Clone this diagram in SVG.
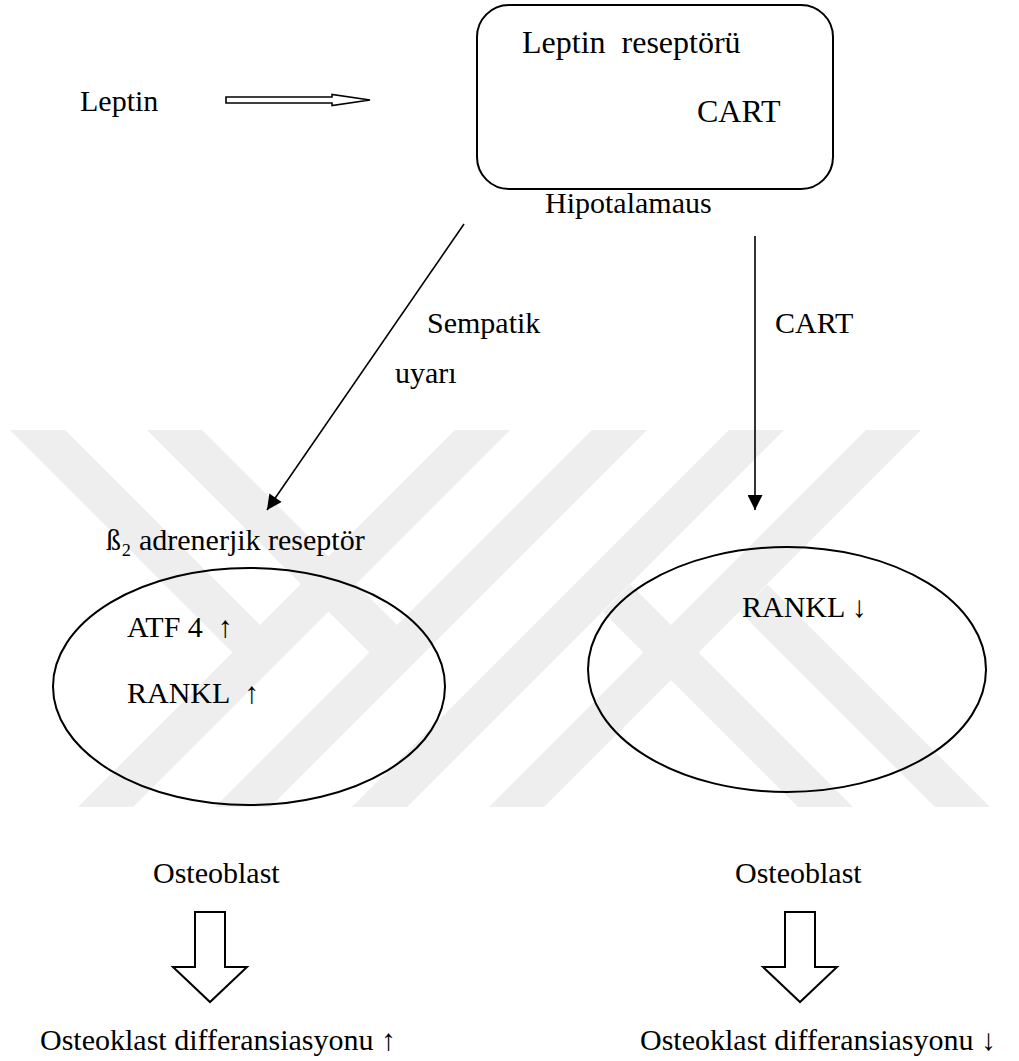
<svg xmlns="http://www.w3.org/2000/svg" width="1019" height="1061" viewBox="0 0 1019 1061">
<style>
  text { font-family: "Liberation Serif", "Times New Roman", serif; font-size: 30px; fill: #000; white-space: pre; }
  .big { font-size: 32px; }
  .wm { fill: #eeeeee; stroke: none; }
  .shape { fill: none; stroke: #000; stroke-width: 2; }
  .conn { fill: none; stroke: #000; stroke-width: 1.6; }
</style>
<defs>
  <marker id="ah" viewBox="0 0 10 10" refX="10" refY="5" markerWidth="17" markerHeight="15" markerUnits="userSpaceOnUse" orient="auto">
    <path d="M0,0 L10,5 L0,10 Z" fill="#000"/>
  </marker>
</defs>
<rect width="1019" height="1061" fill="#fff"/>
<g id="watermark">
  <polygon class="wm" points="455,430 510,430 133,807 78,807"/>
  <polygon class="wm" points="592,430 647,430 270,807 215,807"/>
  <polygon class="wm" points="729,430 784,430 407,807 352,807"/>
  <polygon class="wm" points="866,430 921,430 544,807 489,807"/>
  <polygon class="wm" points="10,430 65,430 260,625 232.5,652.5"/>
  <polygon class="wm" points="147,430 202,430 397,625 369.5,652.5"/>
  <polygon class="wm" points="990,807 935,807 740,612 767.5,584.5"/>
  <polygon class="wm" points="853,807 798,807 603,612 630.5,584.5"/>
</g>
<g id="connectors">
  <path class="conn" d="M226,97 H332 V94.5 L370,100 L332,105.5 V103 H226 Z" stroke-width="1.8"/>
  <line class="conn" x1="464" y1="224" x2="267" y2="510" marker-end="url(#ah)"/>
  <line class="conn" x1="755" y1="236" x2="755" y2="510" marker-end="url(#ah)"/>
  <path class="shape" d="M195,912 H225 V967 H247 L210,1002 L173,967 H195 Z"/>
  <path class="shape" d="M785,912 H815 V967 H837 L800,1002 L763,967 H785 Z"/>
</g>
<g id="leptin">
  <text x="80" y="111">Leptin</text>
</g>
<g id="hipotalamus">
  <rect class="shape" x="477" y="5" width="356" height="184" rx="32" ry="32"/>
  <text class="big" x="522" y="53">Leptin  reseptörü</text>
  <text class="big" x="697" y="122">CART</text>
  <text x="545" y="213">Hipotalamaus</text>
</g>
<g id="labels">
  <text x="427" y="333">Sempatik</text>
  <text x="395" y="383">uyarı</text>
  <text x="775" y="333">CART</text>
</g>
<g id="osteoblast-left">
  <text x="106" y="550">ß₂ adrenerjik reseptör</text>
  <ellipse class="shape" cx="249" cy="686.5" rx="196" ry="118.5"/>
  <text x="127" y="637">ATF 4  ↑</text>
  <text x="127" y="703">RANKL  ↑</text>
  <text x="153" y="883">Osteoblast</text>
  <text x="40" y="1050">Osteoklast differansiasyonu ↑</text>
</g>
<g id="osteoblast-right">
  <ellipse class="shape" cx="787" cy="669.5" rx="199" ry="122.5"/>
  <text x="742" y="617">RANKL ↓</text>
  <text x="735" y="883">Osteoblast</text>
  <text x="640" y="1050">Osteoklast differansiasyonu ↓</text>
</g>
</svg>
